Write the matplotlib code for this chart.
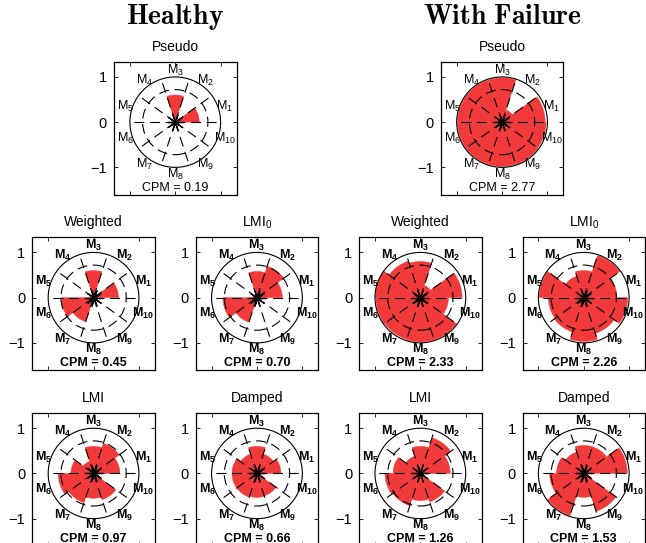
import numpy as np
import matplotlib
matplotlib.use("Agg")
import matplotlib.pyplot as plt
from matplotlib.patches import Wedge, Circle

plt.rcParams['font.family'] = ['Liberation Sans', 'DejaVu Sans']
plt.rcParams['mathtext.fontset'] = 'custom'
plt.rcParams['mathtext.rm'] = 'Liberation Sans'
plt.rcParams['mathtext.bf'] = 'Liberation Sans:bold'
plt.rcParams['mathtext.default'] = 'regular'

# ---------------- data ----------------
modes = ['1', '2', '3', '4', '5', '6', '7', '8', '9', '10']

healthy_pseudo   = [0.53, 0.06, 0.60, 0.06, 0.06, 0.09, 0.06, 0.06, 0.06, 0.06]
healthy_weighted = [0.55, 0.08, 0.60, 0.08, 0.08, 0.71, 0.56, 0.08, 0.08, 0.08]
healthy_lmi0     = [0.56, 0.73, 0.58, 0.08, 0.08, 0.75, 0.57, 0.08, 0.08, 0.08]
healthy_lmi      = [0.58, 0.70, 0.60, 0.28, 0.50, 0.78, 0.68, 0.55, 0.61, 0.08]
healthy_damped   = [0.53, 0.45, 0.60, 0.45, 0.55, 0.55, 0.55, 0.53, 0.52, 0.08]

failure_pseudo   = [0.95, 0.28, 0.98, 0.98, 0.98, 0.98, 0.98, 0.98, 0.98, 0.97]
failure_weighted = [0.92, 0.28, 0.80, 0.85, 0.99, 0.98, 0.97, 0.98, 0.98, 0.62]
failure_lmi0     = [0.73, 0.98, 0.60, 0.50, 0.98, 0.78, 0.80, 0.97, 0.83, 0.97]
failure_lmi      = [0.66, 0.83, 0.60, 0.40, 0.60, 0.78, 0.75, 0.60, 0.66, 0.08]
failure_damped   = [0.96, 0.62, 0.62, 0.50, 0.60, 0.75, 0.98, 0.53, 0.88, 0.08]

cpm_healthy = [0.19, 0.45, 0.70, 0.97, 0.66]
cpm_failure = [2.77, 2.33, 2.26, 1.26, 1.53]

method_titles = ['Pseudo', 'Weighted', r'LMI$_0$', 'LMI', 'Damped']
group_titles = ['Healthy', 'With Failure']

# ---------------- layout ----------------
W, H = 646, 543
fig = plt.figure(figsize=(W / 100, H / 100), dpi=100)

RED = '#F23A3A'
n = len(modes)
sector = 360.0 / n
BW, BH = 122.5, 132.5


def make_ax(left, top):
    return fig.add_axes([left / W, 1 - (top + BH) / H, BW / W, BH / H])


def draw_panel(ax, vals, title, cpm, bold):
    weight = 'bold' if bold else 'normal'
    for k, r in enumerate(vals):
        ax.add_patch(Wedge((0, 0), r, k * sector, (k + 1) * sector,
                           facecolor=RED, edgecolor=RED, lw=0.3, zorder=2))
    # grid
    ax.add_patch(Circle((0, 0), 1.0, fill=False, ec='k', lw=0.8, zorder=3))
    ax.add_patch(Circle((0, 0), 0.72, fill=False, ec='k', lw=0.8,
                        ls=(0, (9, 5)), zorder=3))
    for k in range(n):
        a = np.deg2rad(k * sector)
        ax.plot([0, np.cos(a)], [0, np.sin(a)], color='k', lw=0.8,
                ls=(0, (9, 5)), zorder=3)
    ax.plot(0, 0, marker=(10, 2, 18), ms=12, color='k', mew=0.9, zorder=4)
    # labels
    for k, m in enumerate(modes):
        a = np.deg2rad((k + 0.5) * sector)
        rr = 1.15
        if bold:
            s = r'$\mathbf{M}_{\mathbf{%s}}$' % m
        else:
            s = r'M$_{%s}$' % m
        ax.text(rr * np.cos(a), rr * np.sin(a), s, ha='center', va='center',
                fontsize=9, fontweight=weight, zorder=5)
    ax.text(0, -1.45, 'CPM = %.2f' % cpm, ha='center', va='center',
            fontsize=9, fontweight=weight)
    ax.set_title(title, fontsize=10, pad=8)
    ax.set_xlim(-1.35, 1.35)
    ax.set_ylim(-1.6, 1.33)
    ax.set_xticks([-1, 0, 1])
    ax.set_xticklabels([])
    ax.set_yticks([-1, 0, 1])
    ax.set_yticklabels(['\u22121', '0', '1'], fontsize=10.5)
    ax.tick_params(direction='in', length=3, width=0.6, top=True, right=True, pad=5)
    for sp in ax.spines.values():
        sp.set_linewidth(0.9)


col_left = [32.3, 195.7, 359.1, 522.5]
row_top = [62.0, 237.5, 413.3]

groups = [
    (healthy_pseudo, healthy_weighted, healthy_lmi0, healthy_lmi, healthy_damped, cpm_healthy),
    (failure_pseudo, failure_weighted, failure_lmi0, failure_lmi, failure_damped, cpm_failure),
]

for g, grp in enumerate(groups):
    vals_list = grp[:5]
    cpms = grp[5]
    c0 = col_left[2 * g]
    c1 = col_left[2 * g + 1]
    top_left = (c0 + c1) / 2
    ax = make_ax(top_left, row_top[0])
    draw_panel(ax, vals_list[0], method_titles[0], cpms[0], False)
    positions = [(c0, row_top[1]), (c1, row_top[1]), (c0, row_top[2]), (c1, row_top[2])]
    for i, (l, t) in enumerate(positions):
        ax = make_ax(l, t)
        draw_panel(ax, vals_list[i + 1], method_titles[i + 1], cpms[i + 1], True)
    cx = (c0 + c1 + BW) / 2
    fig.text(cx / W, 1 - 17 / H, r'$\mathbf{%s}$' % group_titles[g].replace(' ', r'\ '),
             ha='center', va='center', fontsize=20, math_fontfamily='cm')

fig.savefig('out.png', dpi=100)
